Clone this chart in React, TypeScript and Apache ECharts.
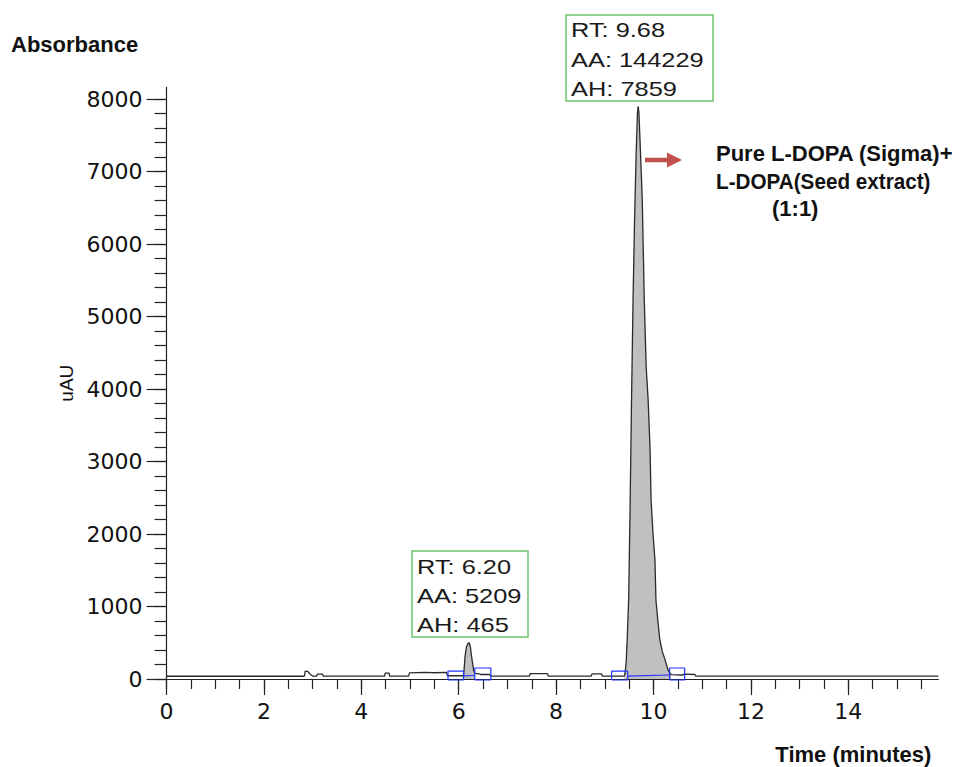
import React, { useEffect, useRef } from "react";
import * as echarts from "echarts";

// ---- data (time in minutes, signal in uAU) ----
const traceBefore: [number, number][] = [
  [0, 38], [2.83, 38], [2.85, 110], [2.9, 105], [2.95, 65], [3.0, 40], [3.08, 40], [3.1, 68], [3.2, 68], [3.22, 40],
  [4.48, 40], [4.49, 82], [4.57, 82], [4.58, 40], [4.97, 40], [4.99, 85], [5.3, 92], [5.5, 86], [5.75, 92], [5.77, 45], [6.08, 45],
];
const smallPeak: [number, number][] = [
  [6.08, 45], [6.1, 60], [6.11, 124], [6.13, 308], [6.16, 445], [6.195, 495], [6.215, 500], [6.24, 445], [6.26, 331],
  [6.28, 239], [6.31, 110], [6.33, 78],
];
const traceMiddle: [number, number][] = [
  [6.33, 78], [6.43, 72], [6.45, 62], [6.64, 62], [6.66, 40], [7.45, 40], [7.47, 75], [7.82, 75], [7.84, 40],
  [8.72, 40], [8.74, 72], [8.93, 72], [8.95, 40], [9.4, 40],
];
const mainPeak: [number, number][] = [
  [9.4, 40], [9.42, 100], [9.44, 250], [9.46, 550], [9.49, 1100], [9.52, 2400], [9.55, 3900], [9.58, 5230], [9.61, 6300],
  [9.645, 7280], [9.67, 7800], [9.685, 7900], [9.7, 7820], [9.725, 7400], [9.77, 6600], [9.81, 5230], [9.85, 4300],
  [9.89, 3850], [9.93, 3160], [9.95, 2470], [9.99, 2000], [10.03, 1640], [10.05, 1090], [10.09, 800], [10.13, 540],
  [10.18, 380], [10.24, 260], [10.3, 120], [10.36, 60],
];
const traceAfter: [number, number][] = [
  [10.36, 60], [10.6, 55], [10.62, 66], [10.85, 62], [10.87, 40], [15.85, 40],
];
// integration markers: [tStart, tEnd, bottom, top]
const integrationBoxes: [number, number, number, number][] = [
  [5.78, 6.1, -14, 110], [6.33, 6.66, -14, 152], [9.14, 9.47, -14, 110], [10.33, 10.64, -14, 152],
];
const integrationBaselines: [number, number][][] = [
  [[6.1, 42], [6.33, 48]],
  [[9.47, 40], [10.33, 55]],
];
const xMajorTicks = [0, 2, 4, 6, 8, 10, 12, 14];
const xMinorTicks = [0, 0.5, 1, 1.5, 2, 2.5, 3, 3.5, 4, 4.5, 5, 5.5, 6, 6.5, 7, 7.5, 8, 8.5, 9, 9.5, 10, 10.5, 11, 11.5, 12, 12.5, 13, 13.5, 14, 14.5, 15, 15.5];
const yMajorTicks = [0, 1000, 2000, 3000, 4000, 5000, 6000, 7000, 8000];
const yMinorTicks = [0, 200, 400, 600, 800, 1000, 1200, 1400, 1600, 1800, 2000, 2200, 2400, 2600, 2800, 3000, 3200, 3400, 3600, 3800, 4000, 4200, 4400, 4600, 4800, 5000, 5200, 5400, 5600, 5800, 6000, 6200, 6400, 6600, 6800, 7000, 7200, 7400, 7600, 7800, 8000];
const peakLabels = [
  ["RT: 9.68", "AA: 144229", "AH: 7859"],
  ["RT: 6.20", "AA: 5209", "AH: 465"],
];
const sampleLabel = ["Pure L-DOPA (Sigma)+", "L-DOPA(Seed extract)", "(1:1)"];

const X_MAX = 15.85;
const Y_MAX = 8160;

export default function App() {
  const ref = useRef<HTMLDivElement>(null);
  useEffect(() => {
    document.body.style.margin = "0";
    const chart = echarts.init(ref.current!, undefined, { renderer: "svg" });
    const trace = [...traceBefore, ...smallPeak, ...traceMiddle, ...mainPeak, ...traceAfter];
    const axisColor = "#222";
    const labelFont = "DejaVu Sans";
    const plain = (v: number) => String(v);
    const boxSeries = integrationBoxes.map((b) => ({
      type: "line",
      data: [[b[0], b[2]], [b[1], b[2]], [b[1], b[3]], [b[0], b[3]], [b[0], b[2]]],
      symbol: "none",
      clip: false,
      silent: true,
      lineStyle: { color: "#2233ff", width: 1.2 },
      z: 5,
    }));
    const baseSeries = integrationBaselines.map((d) => ({
      type: "line",
      data: d,
      symbol: "none",
      silent: true,
      lineStyle: { color: "#2233ff", width: 1.2 },
      z: 4,
    }));
    const fill = (d: [number, number][]) => ({
      type: "line",
      data: d,
      symbol: "none",
      silent: true,
      lineStyle: { width: 0 },
      areaStyle: { color: "#c0c0c0", opacity: 1 },
      z: 2,
    });
    const textBox = (x: number, y: number, w: number, h: number, lines: string[], ys: number[]) => ({
      type: "group",
      children: [
        { type: "rect", shape: { x, y, width: w, height: h }, style: { fill: "#fff", stroke: "#6cc46c", lineWidth: 1.5 } },
        ...lines.map((t, i) => ({
          type: "text",
          x: x + 5,
          y: ys[i],
          scaleX: 1.21,
          style: { text: t, fontSize: 21, fontFamily: "Liberation Sans", fill: "#1a1a1a", align: "left", verticalAlign: "middle" },
        })),
      ],
    });
    chart.setOption({
      animation: false,
      backgroundColor: "#fff",
      grid: { left: 166.5, right: 24.6, top: 87.4, bottom: 88, containLabel: false },
      xAxis: [
        {
          type: "value",
          min: 0,
          max: X_MAX,
          position: "bottom",
          axisLine: { show: true, onZero: false, lineStyle: { color: axisColor, width: 1.2 } },
          axisTick: { show: true, customValues: xMajorTicks, length: 16, lineStyle: { color: axisColor, width: 1.2 } },
          axisLabel: { customValues: xMajorTicks, formatter: plain, margin: 21, fontSize: 22, fontFamily: labelFont, color: "#111" },
          splitLine: { show: false },
          name: "Time (minutes)",
          nameLocation: "end",
          nameGap: -7,
          nameTextStyle: { fontSize: 22, fontWeight: "bold", fontFamily: "Liberation Sans", color: "#111", align: "right", verticalAlign: "top", padding: [64, 0, 0, 0] },
        },
        {
          type: "value",
          min: 0,
          max: X_MAX,
          position: "bottom",
          axisLine: { show: false },
          axisTick: { show: true, customValues: xMinorTicks, length: 10, lineStyle: { color: axisColor, width: 1.2 } },
          axisLabel: { show: false },
          splitLine: { show: false },
        },
      ],
      yAxis: [
        {
          type: "value",
          min: 0,
          max: Y_MAX,
          position: "left",
          axisLine: { show: true, onZero: false, lineStyle: { color: axisColor, width: 1.2 } },
          axisTick: { show: true, customValues: yMajorTicks, length: 20, lineStyle: { color: axisColor, width: 1.2 } },
          axisLabel: { customValues: yMajorTicks, formatter: plain, margin: 24, fontSize: 22, fontFamily: labelFont, color: "#111" },
          splitLine: { show: false },
          name: "uAU",
          nameLocation: "middle",
          nameRotate: 90,
          nameGap: 73,
          nameTextStyle: { fontSize: 19, fontFamily: "Liberation Sans", color: "#111" },
        },
        {
          type: "value",
          min: 0,
          max: Y_MAX,
          position: "left",
          axisLine: { show: false },
          axisTick: { show: true, customValues: yMinorTicks, length: 12, lineStyle: { color: axisColor, width: 1.2 } },
          axisLabel: { show: false },
          splitLine: { show: false },
        },
      ],
      series: [
        fill(smallPeak),
        fill(mainPeak),
        ...baseSeries,
        {
          type: "line",
          data: trace,
          symbol: "none",
          silent: true,
          lineStyle: { color: "#2a2a2a", width: 1.3 },
          z: 3,
        },
        ...boxSeries,
      ],
      graphic: [
        { type: "text", x: 11, y: 44.5, style: { text: "Absorbance", fontSize: 22, fontWeight: "bold", fontFamily: "Liberation Sans", fill: "#111", verticalAlign: "middle" } },
        textBox(566, 15, 147, 86, peakLabels[0], [30.2, 59.7, 89]),
        textBox(412, 551, 116, 86, peakLabels[1], [566.3, 595.5, 624.5]),
        { type: "line", shape: { x1: 645, y1: 160, x2: 671, y2: 160 }, style: { stroke: "#c0504d", lineWidth: 4.5 } },
        { type: "polygon", shape: { points: [[667, 152.5], [682, 160], [667, 167.5]] }, style: { fill: "#c0504d" } },
        { type: "text", x: 716, y: 153.5, style: { text: sampleLabel[0], fontSize: 22, fontWeight: "bold", fontFamily: "Liberation Sans", fill: "#111", verticalAlign: "middle" } },
        { type: "text", x: 716, y: 181.5, scaleX: 0.94, style: { text: sampleLabel[1], fontSize: 22, fontWeight: "bold", fontFamily: "Liberation Sans", fill: "#111", verticalAlign: "middle" } },
        { type: "text", x: 772, y: 208.5, style: { text: sampleLabel[2], fontSize: 22, fontWeight: "bold", fontFamily: "Liberation Sans", fill: "#111", verticalAlign: "middle" } },
      ],
    });
    return () => chart.dispose();
  }, []);
  return <div ref={ref} style={{ width: 963, height: 767 }} />;
}
